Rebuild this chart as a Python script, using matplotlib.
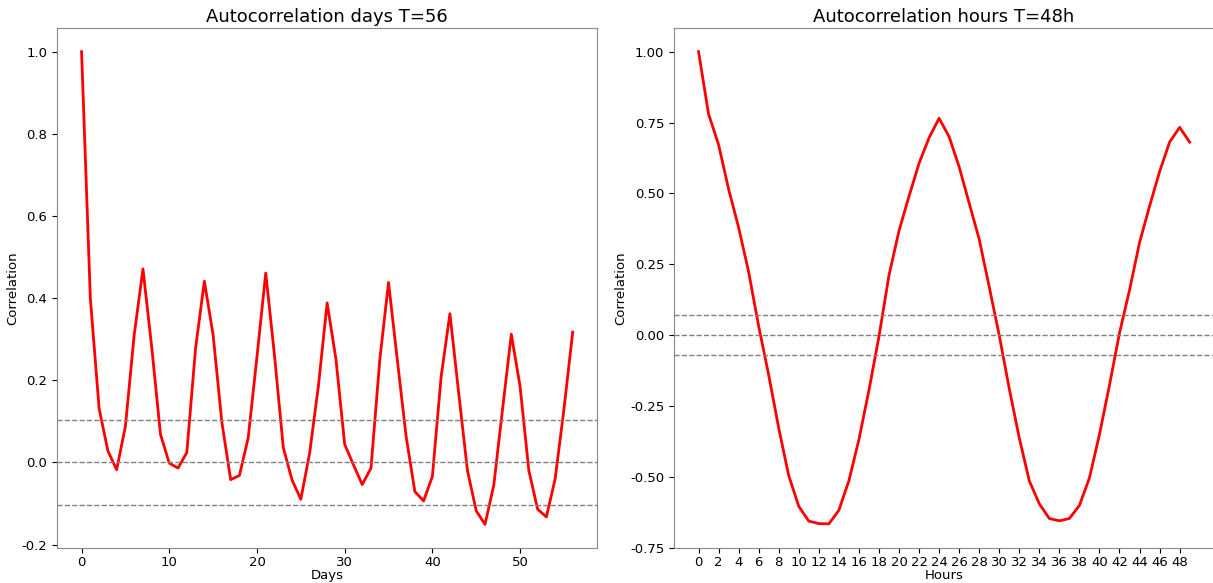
import numpy as np
from matplotlib import pyplot as plt

# autocorrelation per day lag (0..56)
day_acf = [1.0, 0.40, 0.131, 0.028, -0.018, 0.088, 0.31, 0.471, 0.28, 0.068,
           -0.002, -0.014, 0.024, 0.278, 0.441, 0.31, 0.097, -0.042, -0.032, 0.06,
           0.257, 0.461, 0.26, 0.036, -0.043, -0.09, 0.022, 0.185, 0.388, 0.252,
           0.044, -0.006, -0.054, -0.014, 0.249, 0.438, 0.25, 0.064, -0.071, -0.094,
           -0.034, 0.209, 0.362, 0.169, -0.02, -0.118, -0.151, -0.056, 0.129, 0.312,
           0.185, -0.02, -0.114, -0.133, -0.04, 0.129, 0.317]

# autocorrelation per hour lag (0..49)
hour_acf = [1.0, 0.78, 0.672, 0.515, 0.38, 0.223, 0.032, -0.14, -0.327, -0.495,
            -0.603, -0.655, -0.664, -0.665, -0.617, -0.513, -0.368, -0.194, -0.005, 0.211,
            0.368, 0.49, 0.606, 0.696, 0.765, 0.70, 0.594, 0.466, 0.339, 0.171,
            0.0, -0.188, -0.362, -0.513, -0.594, -0.646, -0.654, -0.646, -0.6, -0.503,
            -0.35, -0.176, 0.008, 0.159, 0.327, 0.455, 0.577, 0.681, 0.733, 0.681]

# confidence bands
day_conf = 0.103
hour_conf = 0.071


def acf_panel(ax, values, conf, title, xlabel):
    lags = np.arange(len(values))
    ax.plot(lags, values, color='red', linewidth=2)
    for level in (-conf, 0, conf):
        ax.axhline(level, color='gray', linestyle='--', linewidth=1)
    ax.set_title(title, fontsize=13, pad=4)
    ax.set_xlabel(xlabel, fontsize=9.5, labelpad=0)
    ax.set_ylabel('Correlation', fontsize=9.5, labelpad=2)
    ax.tick_params(labelsize=9.5)
    ax.tick_params(axis='x', pad=2.5)
    for sp in ax.spines.values():
        sp.set_color('#888888')


def main():
    fig, (ax1, ax2) = plt.subplots(1, 2, figsize=(12.13, 5.83), dpi=100)
    fig.subplots_adjust(left=0.047, right=1.001, top=0.952, bottom=0.06, wspace=0.142)

    acf_panel(ax1, day_acf, day_conf, 'Autocorrelation days T=56', 'Days')
    acf_panel(ax2, hour_acf, hour_conf, 'Autocorrelation hours T=48h', 'Hours')
    ax2.set_xticks(np.arange(0, 49, 2))
    ax2.set_yticks(np.arange(-0.75, 1.01, 0.25))
    ax2.yaxis.set_major_formatter(plt.FormatStrFormatter('%.2f'))
    ax1.yaxis.set_major_formatter(plt.FormatStrFormatter('%.1f'))

    fig.savefig('out.png', dpi=100)


if __name__ == "__main__":
    main()
